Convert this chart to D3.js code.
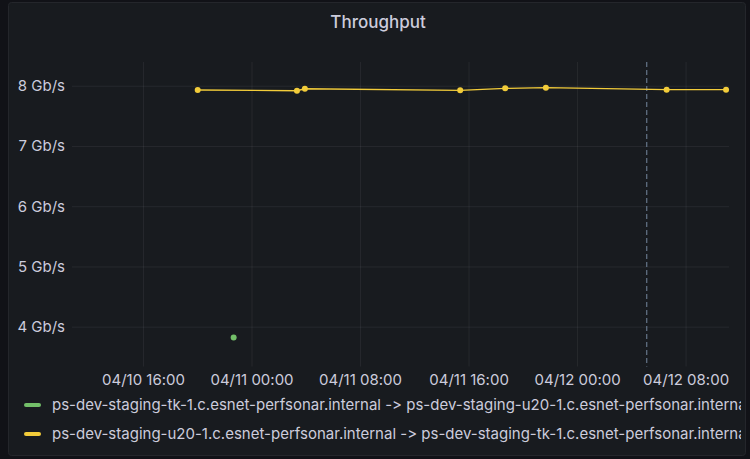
<!DOCTYPE html>
<html>
<head>
<meta charset="utf-8">
<script src="https://cdn.jsdelivr.net/npm/d3@7"></script>
<style>
  html, body { margin: 0; padding: 0; background: #111217; }
  svg { display: block; }
  text { font-variant-ligatures: none; font-feature-settings: "calt" 0, "liga" 0; }
</style>
</head>
<body>
<svg id="chart" width="750" height="459"></svg>
<script>
// ---- data ----
const seriesNames = [
  "ps-dev-staging-tk-1.c.esnet-perfsonar.internal -> ps-dev-staging-u20-1.c.esnet-perfsonar.internal",
  "ps-dev-staging-u20-1.c.esnet-perfsonar.internal -> ps-dev-staging-tk-1.c.esnet-perfsonar.internal"
];
const seriesColors = ["#73bf69", "#f2cc3a"];
const greenTimes = ["2024-04-10T22:41:00Z"];
const greenValues = [3.822e9];
const yellowTimes = [
  "2024-04-10T20:02:00Z", "2024-04-11T03:21:00Z", "2024-04-11T03:56:00Z",
  "2024-04-11T15:23:00Z", "2024-04-11T18:42:00Z", "2024-04-11T21:42:00Z",
  "2024-04-12T06:36:00Z", "2024-04-12T10:59:00Z"
];
const yellowValues = [7.929e9, 7.917e9, 7.950e9, 7.924e9, 7.957e9, 7.967e9, 7.934e9, 7.934e9];
const markerTime = "2024-04-12T05:08:00Z";
const xTicks = ["2024-04-10T16:00:00Z", "2024-04-11T00:00:00Z", "2024-04-11T08:00:00Z",
                "2024-04-11T16:00:00Z", "2024-04-12T00:00:00Z", "2024-04-12T08:00:00Z"];
const yTicks = [4e9, 5e9, 6e9, 7e9, 8e9];
const xDomain = ["2024-04-10T10:46:00Z", "2024-04-12T11:12:00Z"];
const yDomain = [3.339e9, 8.394e9];

// ---- drawing ----
const svg = d3.select("#chart");
const W = 750, H = 459;
const plot = { left: 72, right: 729, top: 62, bottom: 366.5 };
const textColor = "#ccccdc";
const font = "Inter, 'Noto Sans', sans-serif";

svg.append("rect").attr("width", W).attr("height", H).attr("fill", "#111217");
svg.append("rect")
  .attr("x", 8.5).attr("y", 2.5).attr("width", 737).attr("height", 453)
  .attr("rx", 3).attr("fill", "#181b1f").attr("stroke", "#24262b");

svg.append("defs").append("clipPath").attr("id", "panelClip")
  .append("rect").attr("x", 9).attr("y", 3).attr("width", 732).attr("height", 452);

svg.append("text")
  .attr("x", 378).attr("y", 28)
  .attr("text-anchor", "middle")
  .attr("fill", textColor)
  .attr("font-family", font).attr("font-size", 17).attr("font-weight", 500)
  .text("Throughput");

const parse = d3.isoParse;
const x = d3.scaleUtc().domain(xDomain.map(parse)).range([plot.left, plot.right]);
const y = d3.scaleLinear().domain(yDomain).range([plot.bottom, plot.top]);

const gridColor = "rgba(204,204,220,0.08)";

// y axis
const yAxis = d3.axisLeft(y).tickValues(yTicks)
  .tickFormat(d => (d / 1e9) + " Gb/s")
  .tickSize(-(plot.right - plot.left)).tickPadding(7);
const gy = svg.append("g").attr("transform", `translate(${plot.left},0)`).call(yAxis);
gy.select(".domain").remove();
gy.selectAll(".tick line").attr("stroke", gridColor);
gy.selectAll(".tick text").attr("fill", textColor)
  .attr("font-family", font).attr("font-size", 15);

// x axis
const xAxis = d3.axisBottom(x).tickValues(xTicks.map(parse))
  .tickFormat(d3.utcFormat("%m/%d %H:%M"))
  .tickSize(-(plot.bottom - plot.top)).tickPadding(8);
const gx = svg.append("g").attr("transform", `translate(0,${plot.bottom})`).call(xAxis);
gx.select(".domain").remove();
gx.selectAll(".tick line").attr("stroke", gridColor);
gx.selectAll(".tick text").attr("fill", textColor)
  .attr("font-family", font).attr("font-size", 15);

// dashed marker
svg.append("line")
  .attr("x1", x(parse(markerTime))).attr("x2", x(parse(markerTime)))
  .attr("y1", plot.top).attr("y2", plot.bottom)
  .attr("stroke", "#5f6f82").attr("stroke-width", 1.3)
  .attr("stroke-dasharray", "5,3");

// series
const yellow = yellowTimes.map((t, i) => ({ t: parse(t), v: yellowValues[i] }));
const green = greenTimes.map((t, i) => ({ t: parse(t), v: greenValues[i] }));

const line = d3.line().x(d => x(d.t)).y(d => y(d.v));
svg.append("path").datum(yellow)
  .attr("d", line).attr("fill", "none")
  .attr("stroke", seriesColors[1]).attr("stroke-width", 1.3);

svg.selectAll("circle.yellow").data(yellow).enter().append("circle")
  .attr("class", "yellow")
  .attr("cx", d => x(d.t)).attr("cy", d => y(d.v)).attr("r", 3)
  .attr("fill", seriesColors[1]);

svg.selectAll("circle.green").data(green).enter().append("circle")
  .attr("class", "green")
  .attr("cx", d => x(d.t)).attr("cy", d => y(d.v)).attr("r", 3)
  .attr("fill", seriesColors[0]);

// legend
const legend = svg.append("g").attr("clip-path", "url(#panelClip)");
const legendY = [405, 434];
seriesNames.forEach((name, i) => {
  legend.append("rect")
    .attr("x", 24).attr("y", legendY[i] - 2).attr("width", 17).attr("height", 4)
    .attr("rx", 2).attr("fill", seriesColors[i]);
  legend.append("text")
    .attr("x", 52).attr("y", legendY[i]).attr("dy", "0.35em")
    .attr("fill", textColor)
    .attr("font-family", font).attr("font-size", 15)
    .text(name);
});
</script>
</body>
</html>
